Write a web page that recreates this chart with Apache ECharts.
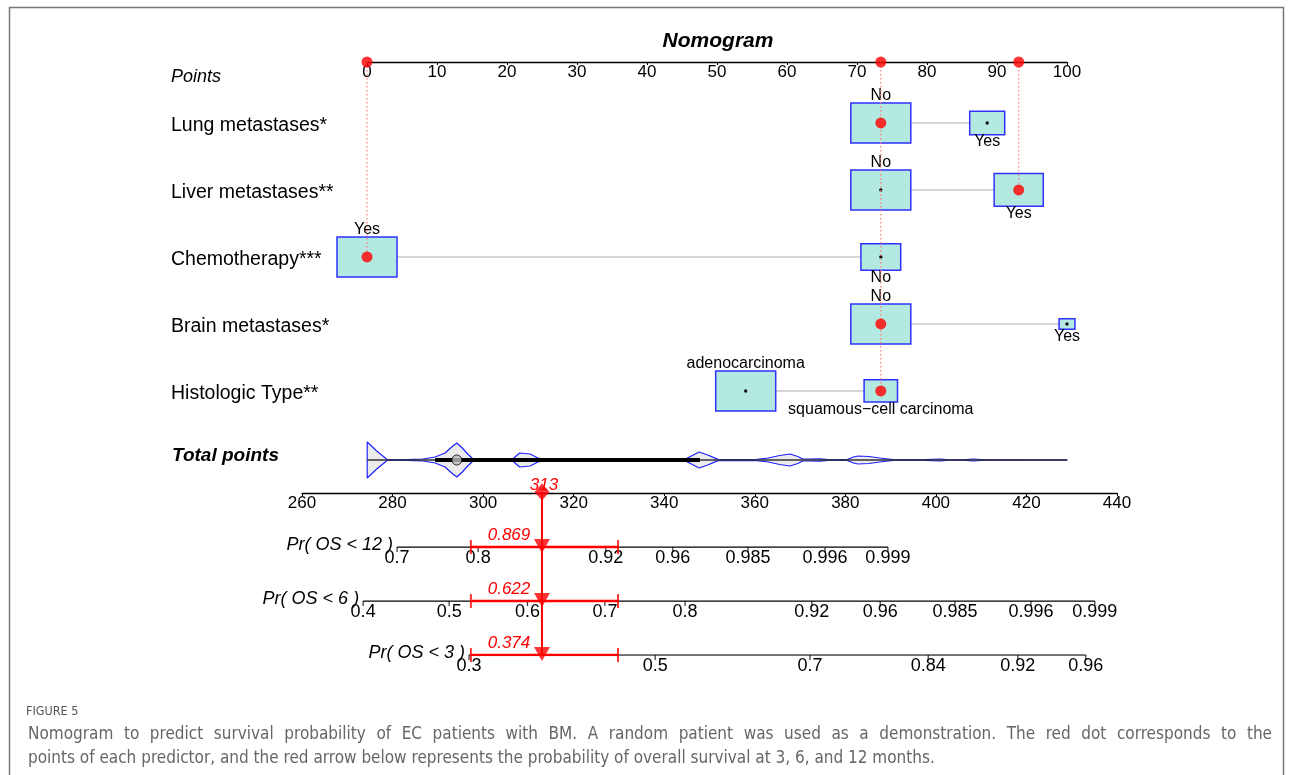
<!DOCTYPE html>
<html><head><meta charset="utf-8">
<script src="https://cdn.jsdelivr.net/npm/echarts@6/dist/echarts.min.js"></script>
<style>html,body{margin:0;padding:0;background:#fff}#c{width:1295px;height:775px}</style>
</head><body><div id="c"></div><script>
// ---------- DATA ----------
const predictors = ['Lung metastases*', 'Liver metastases**', 'Chemotherapy***', 'Brain metastases*', 'Histologic Type**'];
const levelNames = [['No', 'Yes'], ['No', 'Yes'], ['Yes', 'No'], ['No', 'Yes'], ['adenocarcinoma', 'squamous\u2212cell carcinoma']];
const levelPoints = [[73.4, 88.6], [73.4, 93.1], [0, 73.4], [73.4, 100], [54.1, 73.4]];
const levelFreq = [[1, 0.34], [1, 0.67], [1, 0.44], [1, 0.07], [1, 0.31]];
const selectedLevel = [0, 1, 0, 0, 1];
const totalPoints = 313;
const densityX = [274.4, 274.4, 276.5, 278.8, 283, 286.7, 289.4, 291.6, 293.3, 294.2, 295.4, 296.4, 297.8, 302, 306.4, 307.3, 308.1, 310.4, 312.1, 314.3, 320, 327.5, 328.7, 330, 340, 344.6, 346.2, 347.7, 349.6, 351.9, 356, 360.5, 363, 365.5, 367.8, 369.5, 370.6, 372.2, 374.4, 376.2, 380.4, 381.8, 382.8, 385.2, 387.6, 390.5, 396, 400.9, 403, 406, 408.2, 411, 429];
const densityH = [0, 18, 9, 0.5, 0.3, 1, 3, 7, 14, 17, 12, 7, 0.8, 0.3, 0.6, 4, 7, 6, 2, 0.4, 0.2, 0.3, 1, 0.2, 0.2, 0.6, 4.5, 8, 5, 0.6, 0.3, 0.6, 2, 4.5, 6, 3.5, 1, 1, 1.2, 0.3, 0.5, 3, 4, 3.5, 2, 0.3, 0.2, 1, 0.2, 0.2, 1, 0.2, 0];
const totalRange = [274.4, 429];
const iqrRange = [289.4, 347.9];
const medianTotal = 294.2;
const probNames = ['Pr( OS < 12 )', 'Pr( OS < 6 )', 'Pr( OS < 3 )'];
const probTickLabels = [
  ['0.7', '0.8', '0.92', '0.96', '0.985', '0.996', '0.999'],
  ['0.4', '0.5', '0.6', '0.7', '0.8', '0.92', '0.96', '0.985', '0.996', '0.999'],
  ['0.3', '0.5', '0.7', '0.84', '0.92', '0.96']
];
const probTickPoints = [
  [281.0, 298.9, 327.1, 341.9, 358.5, 375.5, 389.4],
  [273.5, 292.5, 309.8, 326.9, 344.6, 372.6, 387.7, 404.2, 421.0, 435.1],
  [296.9, 338.0, 372.2, 398.3, 418.1, 433.1]
];
const probValues = ['0.869', '0.622', '0.374'];
const probCI = [297.3, 329.8];
const captionHead = 'FIGURE 5';
const captionLines = [
  'Nomogram to predict survival probability of EC patients with BM. A random patient was used as a demonstration. The red dot corresponds to the',
  'points of each predictor, and the red arrow below represents the probability of overall survival at 3, 6, and 12 months.'
];

// ---------- CHART ----------
const FONT = '"Liberation Sans", Arial, sans-serif';
const CAPFONT = '"Liberation Sans Narrow", "DejaVu Sans Condensed", "Roboto Condensed", "Liberation Sans", sans-serif';
const AXMIN = 0.09;
const chart = echarts.init(document.getElementById('c'));

const boxData = [];
levelNames.forEach((lv, r) => lv.forEach((name, j) => {
  boxData.push({ name: name, value: [levelPoints[r][j], r + 1, levelFreq[r][j], selectedLevel[r] === j ? 1 : 0, j] });
}));

function renderBox(params, api) {
  const c = api.coord([api.value(0), api.value(1)]);
  const s = Math.sqrt(api.value(2));
  const w = 60 * s, h = 40 * s;
  const above = api.value(4) === 0;
  const name = boxData[params.dataIndex].name;
  const children = [
    { type: 'rect', shape: { x: c[0] - w / 2, y: c[1] - h / 2, width: w, height: h },
      style: { fill: '#b3e9e0', stroke: '#3030ff', lineWidth: 1.5 } },
    { type: 'text', style: { text: name, x: c[0], y: above ? c[1] - h / 2 - 7 : c[1] + h / 2 + 7,
      align: 'center', verticalAlign: 'middle', font: '16px ' + FONT, fill: '#000' } }
  ];
  if (api.value(3) !== 1) children.push({ type: 'circle', shape: { cx: c[0], cy: c[1], r: 1.7 }, style: { fill: '#111' } });
  return { type: 'group', children: children };
}

// text-only marks rendered through the custom series (anchored by data coordinates)
function textItem(opts) {
  return function (params, api) {
    const c = api.coord([api.value(0), api.value(1)]);
    return { type: 'text', style: Object.assign({ text: opts.texts[params.dataIndex], x: c[0] + opts.dx, y: c[1] + opts.dy,
      verticalAlign: 'middle', fill: opts.color || '#000', font: opts.font }, { align: opts.align || 'center' }) };
  };
}
function textSeries(xi, points, texts, opts) {
  return { type: 'custom', xAxisIndex: xi, yAxisIndex: xi, silent: true, z: opts.z || 4, data: points,
    renderItem: textItem(Object.assign({ texts: texts }, opts)) };
}

const series = [];
// predictor names (row labels)
series.push(textSeries(0, predictors.map((_, i) => [0, i + 1]), predictors,
  { dx: -196, dy: 3, align: 'left', font: '19.5px ' + FONT }));
levelPoints.forEach((pts, r) => series.push({
  type: 'line', xAxisIndex: 0, yAxisIndex: 0, silent: true, symbol: 'none', z: 1,
  data: [[Math.min(...pts), r + 1], [Math.max(...pts), r + 1]],
  lineStyle: { color: '#c8c8c8', width: 1.5 }
}));
series.push({ type: 'custom', xAxisIndex: 0, yAxisIndex: 0, z: 2, data: boxData, renderItem: renderBox, silent: true });
const selPts = selectedLevel.map((j, r) => levelPoints[r][j]);
const uniqSel = [...new Set(selPts)];
uniqSel.forEach(p => {
  const lastRow = Math.max(...selPts.map((v, r) => v === p ? r + 1 : 0));
  series.push({ type: 'line', xAxisIndex: 0, yAxisIndex: 0, silent: true, symbol: 'none', z: 3,
    data: [[p, AXMIN], [p, lastRow]], lineStyle: { color: '#ff7a7a', width: 1.2, type: [1.5, 2.5] } });
});
series.push({ type: 'scatter', xAxisIndex: 0, yAxisIndex: 0, z: 5, symbolSize: 11, silent: true,
  itemStyle: { color: '#ff0000' },
  data: uniqSel.map(p => [p, AXMIN]).concat(selPts.map((p, r) => [p, r + 1])) });

// violin (grid 1)
series.push({ type: 'line', xAxisIndex: 1, yAxisIndex: 1, silent: true, symbol: 'none', z: 2,
  data: densityX.map((x, i) => [x, densityH[i]]),
  lineStyle: { color: '#2020ff', width: 1.2 }, areaStyle: { color: '#ebebeb', opacity: 1 } });
series.push({ type: 'line', xAxisIndex: 1, yAxisIndex: 1, silent: true, symbol: 'none', z: 2,
  data: densityX.map((x, i) => [x, -densityH[i]]),
  lineStyle: { color: '#2020ff', width: 1.2 }, areaStyle: { color: '#ebebeb', opacity: 1 } });
series.push({ type: 'line', xAxisIndex: 1, yAxisIndex: 1, silent: true, symbol: 'none', z: 3,
  data: [[totalRange[0], 0], [totalRange[1], 0]], lineStyle: { color: '#333', width: 1.5 } });
series.push({ type: 'line', xAxisIndex: 1, yAxisIndex: 1, silent: true, symbol: 'none', z: 4,
  data: [[iqrRange[0], 0], [iqrRange[1], 0]], lineStyle: { color: '#000', width: 4 } });
series.push({ type: 'scatter', xAxisIndex: 1, yAxisIndex: 1, silent: true, z: 5, symbolSize: 10,
  itemStyle: { color: '#bdbdbd', borderColor: '#000', borderWidth: 1 }, data: [[medianTotal, 0]] });

// probability axes (grid 2)
probTickPoints.forEach((pts, r) => {
  series.push({ type: 'line', xAxisIndex: 2, yAxisIndex: 2, silent: true, symbol: 'none', z: 2,
    data: [[pts[0], r + 1], [pts[pts.length - 1], r + 1]], lineStyle: { color: '#000', width: 1.3 } });
  series.push({ type: 'scatter', xAxisIndex: 2, yAxisIndex: 2, silent: true, z: 2,
    symbol: 'rect', symbolSize: [1.2, 5], symbolOffset: [0, 2.5], itemStyle: { color: '#000' },
    data: pts.map(p => [p, r + 1]) });
  series.push(textSeries(2, pts.map(p => [p, r + 1]), probTickLabels[r],
    { dx: 0, dy: 10.5, font: '18px ' + FONT }));
  series.push(textSeries(2, [[pts[0], r + 1]], [probNames[r]],
    { dx: -4, dy: -2, align: 'right', font: 'italic 18px ' + FONT }));
  series.push({ type: 'line', xAxisIndex: 2, yAxisIndex: 2, silent: true, symbol: 'none', z: 6,
    data: [[probCI[0], r + 1], [probCI[1], r + 1]], lineStyle: { color: '#ff0000', width: 2.5 } });
});
const rowsIdx = probNames.map((_, r) => r + 1);
series.push({ type: 'scatter', xAxisIndex: 2, yAxisIndex: 2, silent: true, z: 6, symbol: 'rect', symbolSize: [2, 14],
  itemStyle: { color: '#ff0000' },
  data: rowsIdx.flatMap(r => [[probCI[0], r], [probCI[1], r]]) });
series.push({ type: 'line', xAxisIndex: 2, yAxisIndex: 2, silent: true, symbol: 'none', z: 7,
  data: [[totalPoints, -0.02], [totalPoints, probNames.length]], lineStyle: { color: '#ff0000', width: 2 } });
series.push({ type: 'scatter', xAxisIndex: 2, yAxisIndex: 2, silent: true, z: 8, symbol: 'triangle', symbolRotate: 180,
  symbolSize: [16, 14], symbolOffset: [0, -1], itemStyle: { color: '#ff0000' },
  data: rowsIdx.map(r => [totalPoints, r]) });
series.push(textSeries(2, rowsIdx.map(r => [totalPoints, r]), probValues,
  { dx: -33, dy: -12, color: '#ff0000', font: 'italic 17px ' + FONT, z: 9 }));
series.push({ type: 'scatter', xAxisIndex: 2, yAxisIndex: 2, silent: true, z: 9, symbol: 'diamond', symbolSize: [15, 17],
  itemStyle: { color: '#ff0000' }, data: [[totalPoints, -0.02]] });
series.push(textSeries(2, [[totalPoints, -0.02]], [String(totalPoints)],
  { dx: 2, dy: -7, color: '#ff0000', font: 'italic 17px ' + FONT, z: 10 }));

// ---------- caption (line 1 justified) ----------
const CAPSIZE = 17, CAPLEFT = 28, CAPRIGHT = 1272;
const capFontStr = CAPSIZE + 'px ' + CAPFONT;
const mctx = document.createElement('canvas').getContext('2d');
mctx.font = capFontStr;
const capGraphics = [];
const words = captionLines[0].split(' ');
const wordW = words.map(w => mctx.measureText(w).width);
const gap = (CAPRIGHT - CAPLEFT - wordW.reduce((a, b) => a + b, 0)) / (words.length - 1);
let cx = CAPLEFT;
words.forEach((w, i) => {
  capGraphics.push({ type: 'text', x: cx, y: 735, silent: true,
    style: { text: w, font: capFontStr, fill: '#666', verticalAlign: 'middle' } });
  cx += wordW[i] + gap;
});
capGraphics.push({ type: 'text', x: CAPLEFT, y: 759, silent: true,
  style: { text: captionLines[1], font: capFontStr, fill: '#666', verticalAlign: 'middle' } });

const hidden = { show: false };
const option = {
  animation: false,
  backgroundColor: '#fff',
  title: { text: 'Nomogram', left: 713, top: 26, textAlign: 'center',
    textStyle: { fontSize: 21, fontWeight: 'bold', fontStyle: 'italic', fontFamily: FONT, color: '#000' } },
  grid: [
    { left: 367, top: 62, width: 700, height: 67 * (6 - AXMIN), outerBoundsMode: 'none' },
    { left: 302, top: 441, width: 815, height: 38, outerBoundsMode: 'none' },
    { left: 302, top: 492, width: 815, height: 54 * 3.02, outerBoundsMode: 'none' }
  ],
  xAxis: [
    { gridIndex: 0, type: 'value', min: 0, max: 100, interval: 10, position: 'top',
      axisLine: { show: true, lineStyle: { color: '#000', width: 1.3 } },
      axisTick: { show: true, inside: true, length: 3, lineStyle: { color: '#000' } },
      axisLabel: { inside: true, margin: 1.5, fontSize: 17, fontFamily: FONT, color: '#000' },
      splitLine: hidden },
    { gridIndex: 1, type: 'value', min: 260, max: 440, show: false },
    { gridIndex: 2, type: 'value', min: 260, max: 440, interval: 20, position: 'top',
      axisLine: { show: true, lineStyle: { color: '#000', width: 1.3 } },
      axisTick: { show: true, inside: true, length: 3, lineStyle: { color: '#000' } },
      axisLabel: { inside: true, margin: 2.5, fontSize: 17, fontFamily: FONT, color: '#000' },
      splitLine: hidden }
  ],
  yAxis: [
    { gridIndex: 0, type: 'value', min: AXMIN, max: 6, inverse: true, show: false },
    { gridIndex: 1, type: 'value', min: -19, max: 19, show: false },
    { gridIndex: 2, type: 'value', min: -0.02, max: 3, inverse: true, show: false }
  ],
  graphic: [
    { type: 'rect', shape: { x: 9.5, y: 7.5, width: 1274, height: 800 }, style: { fill: 'none', stroke: '#777', lineWidth: 1.5 }, silent: true },
    { type: 'text', x: 171, y: 77, style: { text: 'Points', font: 'italic 18px ' + FONT, fill: '#000', verticalAlign: 'middle' } },
    { type: 'text', x: 172, y: 456, style: { text: 'Total points', font: 'italic bold 19px ' + FONT, fill: '#000', verticalAlign: 'middle' } },
    { type: 'text', x: 26, y: 712, style: { text: captionHead, font: '12.5px ' + CAPFONT, fill: '#555', verticalAlign: 'middle' } }
  ].concat(capGraphics),
  series: series
};
chart.setOption(option);
</script></body></html>
